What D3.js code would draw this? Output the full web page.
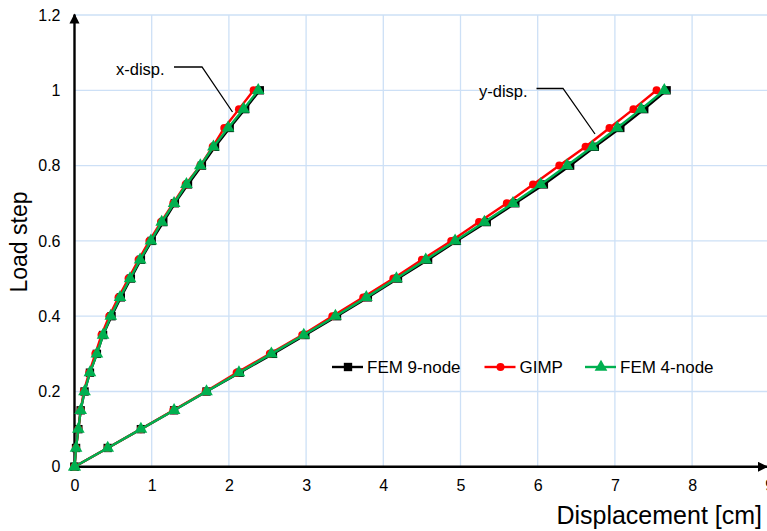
<!DOCTYPE html>
<html>
<head>
<meta charset="utf-8">
<script src="https://cdn.jsdelivr.net/npm/d3@7"></script>
<style>
  html, body { margin: 0; padding: 0; background: #fff; }
  svg { display: block; font-family: "Liberation Sans", Arial, sans-serif; }
</style>
</head>
<body>
<svg id="chart" width="767" height="531"></svg>
<script>
// Load steps shared by every series
const loadSteps = [0, 0.05, 0.1, 0.15, 0.2, 0.25, 0.3, 0.35, 0.4, 0.45, 0.5,
                   0.55, 0.6, 0.65, 0.7, 0.75, 0.8, 0.85, 0.9, 0.95, 1.0];

// Horizontal displacement [cm]
const xDispFem9 = [0, 0.02, 0.05, 0.08, 0.13, 0.20, 0.29, 0.37, 0.48, 0.60, 0.73,
                   0.86, 1.00, 1.15, 1.30, 1.47, 1.65, 1.82, 2.01, 2.21, 2.40];
const xDispGimp = [0, 0.02, 0.05, 0.08, 0.12, 0.19, 0.27, 0.35, 0.45, 0.57, 0.70,
                   0.83, 0.97, 1.12, 1.28, 1.44, 1.63, 1.79, 1.94, 2.13, 2.32];
const xDispFem4 = [0, 0.02, 0.05, 0.08, 0.13, 0.20, 0.29, 0.37, 0.47, 0.59, 0.72,
                   0.85, 0.99, 1.13, 1.29, 1.45, 1.63, 1.80, 1.99, 2.19, 2.38];

// Vertical displacement [cm]
const yDispFem9 = [0, 0.43, 0.86, 1.29, 1.71, 2.14, 2.57, 2.99, 3.40, 3.80, 4.19,
                   4.58, 4.95, 5.34, 5.71, 6.08, 6.42, 6.74, 7.07, 7.38, 7.67];
const yDispGimp = [0, 0.43, 0.86, 1.28, 1.70, 2.10, 2.53, 2.95, 3.34, 3.74, 4.13,
                   4.50, 4.88, 5.24, 5.60, 5.94, 6.28, 6.62, 6.93, 7.24, 7.54];
const yDispFem4 = [0, 0.43, 0.86, 1.29, 1.71, 2.13, 2.55, 2.97, 3.38, 3.78, 4.17,
                   4.55, 4.93, 5.31, 5.68, 6.04, 6.38, 6.71, 7.03, 7.34, 7.64];

const xTicks = [0, 1, 2, 3, 4, 5, 6, 7, 8, 9];
const yTicks = [0, 0.2, 0.4, 0.6, 0.8, 1.0, 1.2];
const yTickLabels = ["0", "0.2", "0.4", "0.6", "0.8", "1", "1.2"];

const seriesNames = ["FEM 9-node", "GIMP", "FEM 4-node"];
const seriesColors = ["#000000", "#ff0000", "#00b050"];
const seriesSymbols = [d3.symbolSquare, d3.symbolCircle, d3.symbolTriangle];
const symbolSizes = [70, 50, 70];

const svg = d3.select("#chart");
const W = 767, H = 531;

const x = d3.scaleLinear().domain([0, 9]).range([74.5, 769.3]);
const y = d3.scaleLinear().domain([0, 1.2]).range([466.8, 15]);

// Grid
const grid = svg.append("g").attr("stroke", "#cde0f6").attr("stroke-width", 1.3);
grid.selectAll("line.h").data(yTicks.filter(d => d > 0)).join("line")
  .attr("x1", x(0)).attr("x2", W)
  .attr("y1", d => y(d)).attr("y2", d => y(d));
grid.selectAll("line.v").data(xTicks.filter(d => d > 0)).join("line")
  .attr("x1", d => x(d)).attr("x2", d => x(d))
  .attr("y1", y(0)).attr("y2", y(1.2));

// Axes via d3 axis generators, domain replaced by arrowed lines
const xAxis = svg.append("g").attr("transform", `translate(0,${y(0)})`)
  .call(d3.axisBottom(x).tickValues(xTicks).tickSize(0).tickPadding(13).tickFormat(d3.format("d")));
const yAxis = svg.append("g").attr("transform", `translate(${x(0)},0)`)
  .call(d3.axisLeft(y).tickValues(yTicks).tickSize(0).tickPadding(14)
    .tickFormat((d, i) => yTickLabels[i]));
[xAxis, yAxis].forEach(g => {
  g.select(".domain").remove();
  g.selectAll("text").attr("font-size", 16).attr("fill", "#000")
    .attr("font-family", "'Liberation Sans', Arial, sans-serif");
});

const defs = svg.append("defs");
defs.append("marker").attr("id", "arrow").attr("viewBox", "0 0 10 10")
  .attr("refX", 9).attr("refY", 5).attr("markerWidth", 4.2).attr("markerHeight", 4.2)
  .attr("markerUnits", "strokeWidth").attr("orient", "auto")
  .append("path").attr("d", "M0,0 L10,5 L0,10 Z").attr("fill", "#000");

svg.append("line").attr("x1", x(0) - 1).attr("x2", 767).attr("y1", y(0)).attr("y2", y(0))
  .attr("stroke", "#000").attr("stroke-width", 2.4).attr("marker-end", "url(#arrow)");
svg.append("line").attr("x1", x(0)).attr("x2", x(0)).attr("y1", y(0) + 1).attr("y2", 14.5)
  .attr("stroke", "#000").attr("stroke-width", 2.4).attr("marker-end", "url(#arrow)");

// Axis titles
svg.append("text").attr("x", 762).attr("y", 524).attr("text-anchor", "end")
  .attr("font-size", 25).text("Displacement [cm]");
svg.append("text").attr("transform", "translate(27,242) rotate(-90)")
  .attr("text-anchor", "middle").attr("font-size", 23).text("Load step");

// Series
const xSets = [xDispFem9, xDispGimp, xDispFem4];
const ySets = [yDispFem9, yDispGimp, yDispFem4];
const line = d3.line().x(d => x(d[0])).y(d => y(d[1]));

seriesNames.forEach((name, s) => {
  const g = svg.append("g");
  [xSets[s], ySets[s]].forEach(disp => {
    const pts = disp.map((v, i) => [v, loadSteps[i]]);
    g.append("path").attr("d", line(pts)).attr("fill", "none")
      .attr("stroke", seriesColors[s]).attr("stroke-width", 2.4);
    g.selectAll(null).data(pts).join("path")
      .attr("transform", d => `translate(${x(d[0])},${y(d[1])})`)
      .attr("d", d3.symbol(seriesSymbols[s], symbolSizes[s]))
      .attr("fill", seriesColors[s]);
  });
});

// Leader annotations
const ann = svg.append("g");
ann.append("text").attr("x", 116).attr("y", 75).attr("font-size", 16.5).text("x-disp.");
ann.append("polyline").attr("points", "174,67 202,67 232.5,112")
  .attr("fill", "none").attr("stroke", "#000").attr("stroke-width", 1.3);
ann.append("text").attr("x", 479).attr("y", 97).attr("font-size", 16.5).text("y-disp.");
ann.append("polyline").attr("points", "536.5,88.5 563,88.5 595,134")
  .attr("fill", "none").attr("stroke", "#000").attr("stroke-width", 1.3);

// Legend
const legendX = [332, 484.5, 585];
const legend = svg.append("g");
seriesNames.forEach((name, s) => {
  const lg = legend.append("g").attr("transform", `translate(${legendX[s]},367)`);
  lg.append("line").attr("x1", 0).attr("x2", 31).attr("y1", 0).attr("y2", 0)
    .attr("stroke", seriesColors[s]).attr("stroke-width", 2.4);
  lg.append("path").attr("transform", "translate(16,0)")
    .attr("d", d3.symbol(seriesSymbols[s], symbolSizes[s])).attr("fill", seriesColors[s]);
  lg.append("text").attr("x", 35).attr("y", 6).attr("font-size", 17).text(name);
});
</script>
</body>
</html>
